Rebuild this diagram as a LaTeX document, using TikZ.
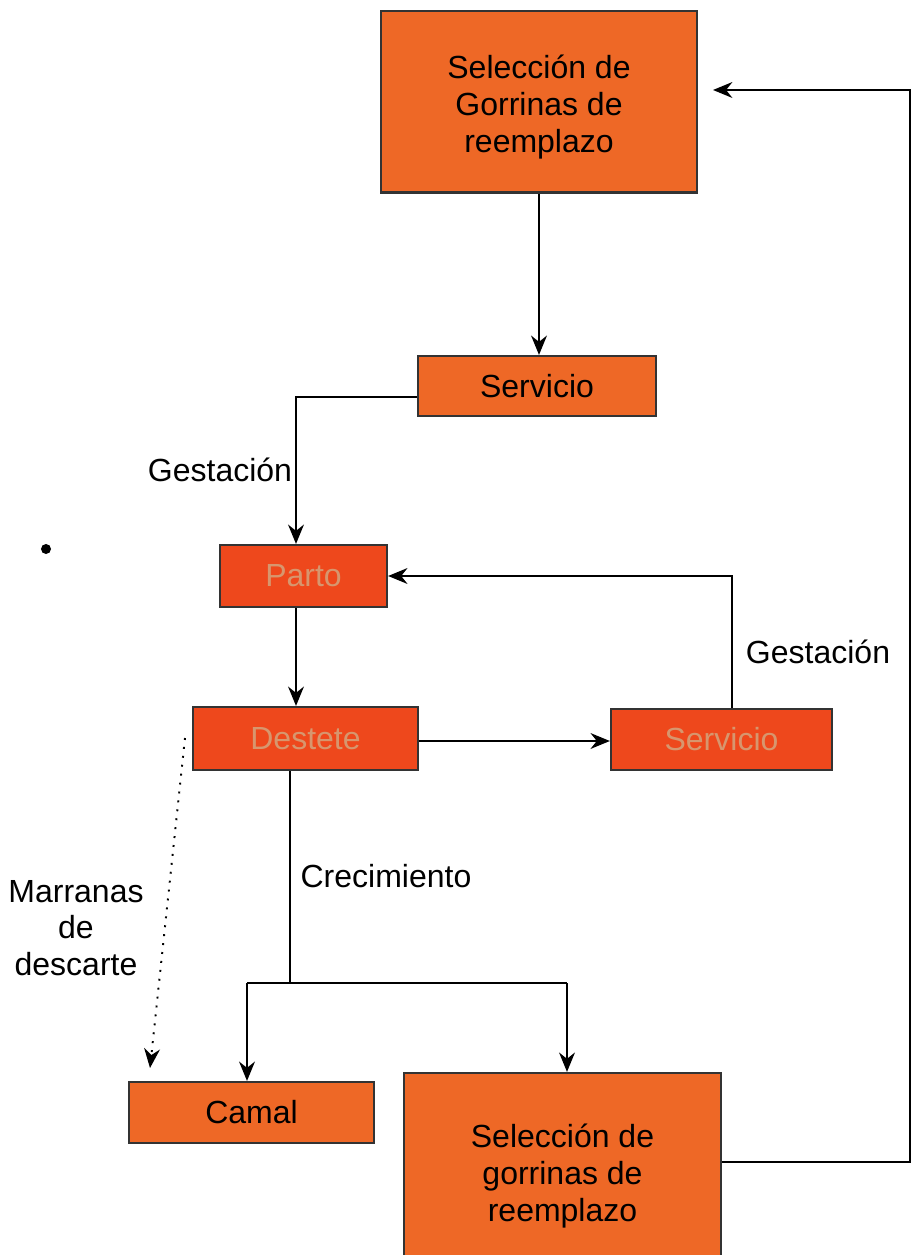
\documentclass[tikz,border=0pt]{standalone}
\usepackage{fontspec}
\setmainfont{Liberation Sans}
\usetikzlibrary{arrows.meta}
\definecolor{boxor}{RGB}{238,104,38}
\definecolor{boxred}{RGB}{238,72,28}
\definecolor{fadetxt}{RGB}{215,150,110}
\begin{document}
\begin{tikzpicture}[x=0.01cm,y=-0.01cm,
  box/.style={draw=black!80,line width=0.6pt,fill=boxor,inner sep=0pt,align=center,
    font=\fontsize{9.1}{10.4}\selectfont},
  rbox/.style={box,fill=boxred,text=fadetxt},
  lbl/.style={font=\fontsize{9.1}{10.4}\selectfont,align=center},
  conn/.style={draw=black,line width=0.55pt,-{Stealth[length=5.5pt,width=4.5pt]}},
  dconn/.style={conn,dotted}]
\useasboundingbox (0,0) rectangle (912,1255);
% boxes
\node[box,minimum width=3.16cm,minimum height=1.81cm] (top) at (539,102) {};
\node[box,minimum width=2.38cm,minimum height=0.60cm] (serv1) at (537,386) {Servicio};
\node[rbox,minimum width=1.67cm,minimum height=0.62cm] (parto) at (303.5,576) {Parto};
\node[rbox,minimum width=2.25cm,minimum height=0.63cm] (dest) at (305.5,738.5) {Destete};
\node[rbox,minimum width=2.21cm,minimum height=0.61cm] (serv2) at (721.5,739.5) {Servicio};
\node[box,minimum width=2.45cm,minimum height=0.61cm] (camal) at (251.5,1112.5) {Camal};
\node[box,minimum width=3.17cm,minimum height=1.84cm] (bot) at (562.5,1165) {};
\node[lbl] (toptxt) at (539,107) {Selección de\\Gorrinas de\\reemplazo};
\node[lbl] (bottxt) at (562.5,1176) {Selección de\\gorrinas de\\reemplazo};
% coordinates
\coordinate (a1) at (296,397);
\coordinate (a2) at (732,576);
\coordinate (s1) at (290,983);
\coordinate (s2) at (247,983);
\coordinate (s3) at (567,983);
\coordinate (r1) at (910,1162);
\coordinate (r2) at (910,90);
\coordinate (r3) at (713,90);
\coordinate (d2) at (150,1068);
% connectors
\draw[conn] (top.south -| 539,0) -- (serv1.north -| 539,0);
\draw[conn] (serv1.west |- a1) -- (a1) -- (parto.north -| a1);
\draw[conn] (parto.south -| a1) -- (dest.north -| a1);
\draw[conn] (serv2.north -| a2) -- (a2) -- (parto.east |- a2);
\draw[conn] (dest.east |- 0,741) -- (serv2.west |- 0,741);
\draw[line width=0.55pt] (dest.south -| s1) -- (s1);
\draw[line width=0.55pt] (s2) -- (s3);
\draw[conn] (s2) -- (camal.north -| s2);
\draw[conn] (s3) -- (bot.north -| s3);
\draw[conn] (bot.east |- r1) -- (r1) -- (r2) -- (r3);
\draw[dconn] (185,738) -- (d2);
% labels
\node[lbl] (g1) at (220,470) {Gestación};
\node[lbl] (g2) at (818,652) {Gestación};
\node[lbl] (cr) at (386,876) {Crecimiento};
\node[lbl] (md) at (76,928) {Marranas\\de\\descarte};
\fill (46,549) circle[radius=0.05cm];
\end{tikzpicture}
\end{document}
